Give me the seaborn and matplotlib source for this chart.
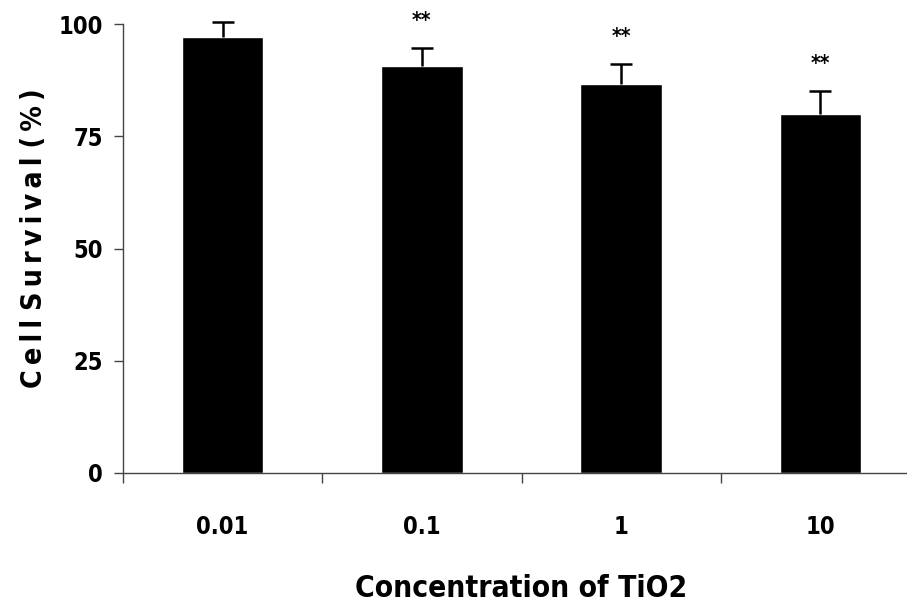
import matplotlib
matplotlib.use("Agg")
import matplotlib.pyplot as plt
import numpy as np
import pandas as pd
import seaborn as sns

concentrations = ["0.01", "0.1", "1", "10"]
survival = [97.0, 90.7, 86.6, 80.0]
sem = [3.4, 4.0, 4.5, 5.1]
significance = ["", "**", "**", "**"]
y_ticks = [0, 25, 50, 75, 100]

sns.set_style("white")
# condensed bold DejaVu is the closest installed match to Arial Narrow
plt.rcParams["font.family"] = ["DejaVu Sans"]
plt.rcParams["font.stretch"] = "condensed"
plt.rcParams["text.color"] = "black"
plt.rcParams["axes.labelcolor"] = "black"
plt.rcParams["xtick.color"] = "black"
plt.rcParams["ytick.color"] = "black"

df = pd.DataFrame({"conc": concentrations, "survival": survival})

fig = plt.figure(figsize=(9.07, 6.15), dpi=100)
ax = fig.add_axes([123 / 907, 1 - 473 / 615, 797 / 907, 449 / 615])

sns.barplot(data=df, x="conc", y="survival", color="black", width=0.41,
            errorbar=None, saturation=1, ax=ax)
x = np.arange(len(concentrations))
eb = ax.errorbar(x, survival, yerr=[np.zeros(len(sem)), sem], fmt="none",
                 ecolor="black", elinewidth=1.8, capsize=8, capthick=1.8, clip_on=False)
eb[1][0].set_visible(False)  # no cap on the lower (zero) side

for xi, top, s in zip(x, np.array(survival) + np.array(sem), significance):
    if s:
        ax.annotate(s, (xi, top), xytext=(0, 12), textcoords="offset points",
                    ha="center", va="bottom", fontsize=15, fontweight="bold")

ax.set_xlim(-0.5, 3.5)
ax.set_ylim(0, 100)
ax.set_yticks(y_ticks)
ax.set_yticklabels([str(t) for t in y_ticks], fontsize=17, fontweight="bold")
ax.set_xticks(np.arange(-0.5, 4, 1))
ax.set_xticklabels([])
ax.set_xticks(x, minor=True)
ax.set_xticklabels(concentrations, minor=True, fontsize=17, fontweight="bold")
ax.tick_params(axis="y", which="major", direction="out", length=6.5, width=1,
               color="#444444", pad=8, left=True)
ax.tick_params(axis="x", which="major", direction="out", length=7, width=1,
               color="#444444", bottom=True)
ax.tick_params(axis="x", which="minor", length=0, pad=30)

sns.despine(ax=ax)
for side in ["left", "bottom"]:
    ax.spines[side].set_color("#444444")
    ax.spines[side].set_linewidth(1)
    ax.spines[side].set_clip_on(False)
for p in ax.patches:
    p.set_clip_on(False)

ax.set_xlabel("Concentration of TiO2", fontsize=21.5, fontweight="bold")
ax.xaxis.set_label_coords(0.5, -0.225)
# the original label is letter-spaced
ylabel = " ".join("\u2009".join(w) for w in "Cell Survival (%)".split())
ax.set_ylabel(ylabel, fontsize=20.5, fontweight="bold")
ax.yaxis.set_label_coords(-0.094, 0.523)

fig.savefig("out.png", dpi=100)
